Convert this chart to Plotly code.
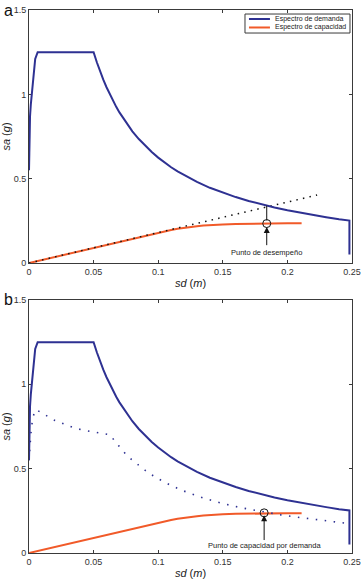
import plotly.graph_objects as go

# ---------------- data ----------------
x_ticks = [0, 0.05, 0.1, 0.15, 0.2, 0.25]
x_tick_text = ["0", "0.05", "0.1", "0.15", "0.2", "0.25"]
y_ticks = [0, 0.5, 1, 1.5]
y_tick_text = ["0", "0.5", "1", "1.5"]

# demand spectrum (solid blue), both panels
sd_demand = [0, 0.0001, 0.0003, 0.0008, 0.0014, 0.0021, 0.0033, 0.0048, 0.0067,
             0.05, 0.0525, 0.055, 0.0575, 0.06, 0.0625, 0.065, 0.0675, 0.07, 0.075,
             0.08, 0.085, 0.09, 0.095, 0.10, 0.105, 0.11, 0.115, 0.12, 0.13,
             0.14, 0.15, 0.16, 0.17, 0.18, 0.19, 0.20, 0.21, 0.22, 0.23, 0.24,
             0.248, 0.248]
sa_demand = [0.55, 0.65, 0.74, 0.87, 0.94, 1.0, 1.13, 1.21, 1.25,
             1.25, 1.19, 1.136, 1.087, 1.042, 1.0, 0.962, 0.926, 0.893, 0.833,
             0.781, 0.735, 0.694, 0.658, 0.625, 0.595, 0.568, 0.543, 0.521, 0.481,
             0.446, 0.417, 0.391, 0.368, 0.347, 0.329, 0.313, 0.298, 0.284, 0.272, 0.26,
             0.252, 0.05]

# capacity spectrum (red), both panels
sd_capacity = [0, 0.02, 0.05, 0.08, 0.10, 0.11, 0.115, 0.12, 0.125, 0.13, 0.135,
               0.14, 0.145, 0.15, 0.16, 0.17, 0.18, 0.19, 0.20, 0.211]
sa_capacity = [0, 0.036, 0.09, 0.145, 0.181, 0.196, 0.203, 0.209, 0.214, 0.218, 0.222,
               0.225, 0.227, 0.229, 0.232, 0.234, 0.235, 0.236, 0.236, 0.236]

# elastic extension (black dotted), panel a
sd_elastic = [0, 0.223]
sa_elastic = [0, 0.403]

# vertical line from demand curve to performance point, panel a
sd_perf_line = [0.184, 0.184]
sa_perf_line = [0.340, 0.252]

# marked points
sd_point_a, sa_point_a = 0.184, 0.234
sd_point_b, sa_point_b = 0.182, 0.238

# reduced demand spectrum (blue dotted), panel b
sd_reduced = [0, 0.0004, 0.0008, 0.0015, 0.0026, 0.0040, 0.0054, 0.0085, 0.013,
              0.020, 0.027, 0.034, 0.041, 0.048, 0.055, 0.063, 0.066, 0.070, 0.075,
              0.080, 0.085, 0.090, 0.095, 0.100, 0.110, 0.120, 0.135, 0.150, 0.165,
              0.180, 0.195, 0.210, 0.225, 0.246]
sa_reduced = [0.55, 0.60, 0.66, 0.71, 0.785, 0.83, 0.85, 0.836, 0.816,
              0.786, 0.765, 0.744, 0.73, 0.72, 0.713, 0.70, 0.667, 0.63, 0.585,
              0.55, 0.518, 0.49, 0.463, 0.44, 0.40, 0.367, 0.326, 0.293, 0.267,
              0.245, 0.226, 0.21, 0.196, 0.176]

# ---------------- styles ----------------
BLUE = "#2E3192"
RED = "#F15A29"
AX = "#3a3a3a"
FONT = "Liberation Sans, Arial, sans-serif"

fig = go.Figure()

def add_panel(xa, ya, panel):
    fig.add_trace(go.Scatter(x=sd_capacity, y=sa_capacity, mode="lines",
                             name="Espectro de capacidad", showlegend=False,
                             line=dict(color=RED, width=2), xaxis=xa, yaxis=ya))
    if panel == "a":
        fig.add_trace(go.Scatter(x=sd_elastic, y=sa_elastic, mode="lines",
                                 showlegend=False,
                                 line=dict(color="#111", width=1.5, dash="1.5px,5.2px"),
                                 xaxis=xa, yaxis=ya))
    else:
        fig.add_trace(go.Scatter(x=sd_reduced, y=sa_reduced, mode="lines",
                                 showlegend=False,
                                 line=dict(color=BLUE, width=1.6, dash="1.5px,7.5px"),
                                 xaxis=xa, yaxis=ya))
    fig.add_trace(go.Scatter(x=sd_demand, y=sa_demand, mode="lines",
                             name="Espectro de demanda", showlegend=False,
                             line=dict(color=BLUE, width=2), xaxis=xa, yaxis=ya))
    if panel == "a":
        fig.add_trace(go.Scatter(x=sd_perf_line, y=sa_perf_line, mode="lines",
                                 showlegend=False, line=dict(color="#111", width=1),
                                 xaxis=xa, yaxis=ya))
        px, py = sd_point_a, sa_point_a
    else:
        px, py = sd_point_b, sa_point_b
    fig.add_trace(go.Scatter(x=[px], y=[py], mode="markers", showlegend=False,
                             marker=dict(symbol="circle-open", size=8,
                                         color="#111", line=dict(width=1)),
                             xaxis=xa, yaxis=ya))

add_panel("x", "y", "a")
add_panel("x2", "y2", "b")

axis_common = dict(showline=True, linecolor=AX, linewidth=1, mirror="ticks",
                   ticks="inside", ticklen=3, tickcolor=AX, showgrid=False,
                   zeroline=False, tickfont=dict(size=9, color="#333", family=FONT),
                   layer="below traces", automargin=False)

xt = dict(text="<i>sd</i> (<i>m</i>)", font=dict(size=11, color="#222", family=FONT),
          standoff=3)
yt = dict(text="<i>sa</i> (<i>g</i>)", font=dict(size=11, color="#222", family=FONT),
          standoff=3)

fig.update_layout(
    width=364, height=579,
    margin=dict(l=29, r=12, t=10, b=26),
    paper_bgcolor="white", plot_bgcolor="white",
    font=dict(family=FONT),
    showlegend=False,
    xaxis=dict(domain=[0, 1], anchor="y", range=[0, 0.25], tickvals=x_ticks,
               ticktext=x_tick_text, title=xt, **axis_common),
    yaxis=dict(domain=[0.534, 1], anchor="x", range=[0, 1.5], tickvals=y_ticks,
               ticktext=y_tick_text, title=yt, **axis_common),
    xaxis2=dict(domain=[0, 1], anchor="y2", range=[0, 0.25], tickvals=x_ticks,
                ticktext=x_tick_text, title=xt, **axis_common),
    yaxis2=dict(domain=[0, 0.466], anchor="x2", range=[0, 1.5], tickvals=y_ticks,
                ticktext=y_tick_text, title=yt, **axis_common),
)

# arrows and point labels
fig.add_annotation(x=sd_point_a, y=0.213, ax=sd_point_a, ay=0.097, xref="x", yref="y",
                   axref="x", ayref="y", text="", showarrow=True, arrowhead=2,
                   arrowsize=1.2, arrowwidth=1, arrowcolor="#111")
fig.add_annotation(x=sd_point_a, y=0.065, xref="x", yref="y", text="Punto de desempeño",
                   showarrow=False, font=dict(size=7.5, color="#222", family=FONT))
fig.add_annotation(x=sd_point_b, y=0.224, ax=sd_point_b, ay=0.068, xref="x2", yref="y2",
                   axref="x2", ayref="y2", text="", showarrow=True, arrowhead=2,
                   arrowsize=1.2, arrowwidth=1, arrowcolor="#111")
fig.add_annotation(x=sd_point_b, y=0.047, xref="x2", yref="y2",
                   text="Punto de capacidad por demanda",
                   showarrow=False, font=dict(size=7.5, color="#222", family=FONT))

# panel letters
fig.add_annotation(x=-0.085, y=1.0, xref="paper", yref="paper", text="a",
                   showarrow=False, xanchor="left", yanchor="middle",
                   font=dict(size=16, color="#111", family=FONT))
fig.add_annotation(x=-0.085, y=0.466, xref="paper", yref="paper", text="b",
                   showarrow=False, xanchor="left", yanchor="middle",
                   font=dict(size=16, color="#111", family=FONT))

# legend box (panel a)
fig.add_shape(type="rect", xref="paper", yref="paper", x0=0.6687, x1=0.9938,
              y0=0.9576, y1=0.9926, line=dict(color=AX, width=1), fillcolor="white")
legend_items = [("Espectro de demanda", BLUE, 0.9834), ("Espectro de capacidad", RED, 0.9678)]
for label, col, yy in legend_items:
    fig.add_shape(type="line", xref="paper", yref="paper", x0=0.681, x1=0.746,
                  y0=yy, y1=yy, line=dict(color=col, width=2))
    fig.add_annotation(x=0.755, y=yy, xref="paper", yref="paper", text=label,
                       showarrow=False, xanchor="left", yanchor="middle",
                       font=dict(size=7, color="#222", family=FONT))

fig.write_html("out.html", config={"displayModeBar": False},
               post_script="document.body.style.margin='0px';document.body.style.overflow='hidden';")
